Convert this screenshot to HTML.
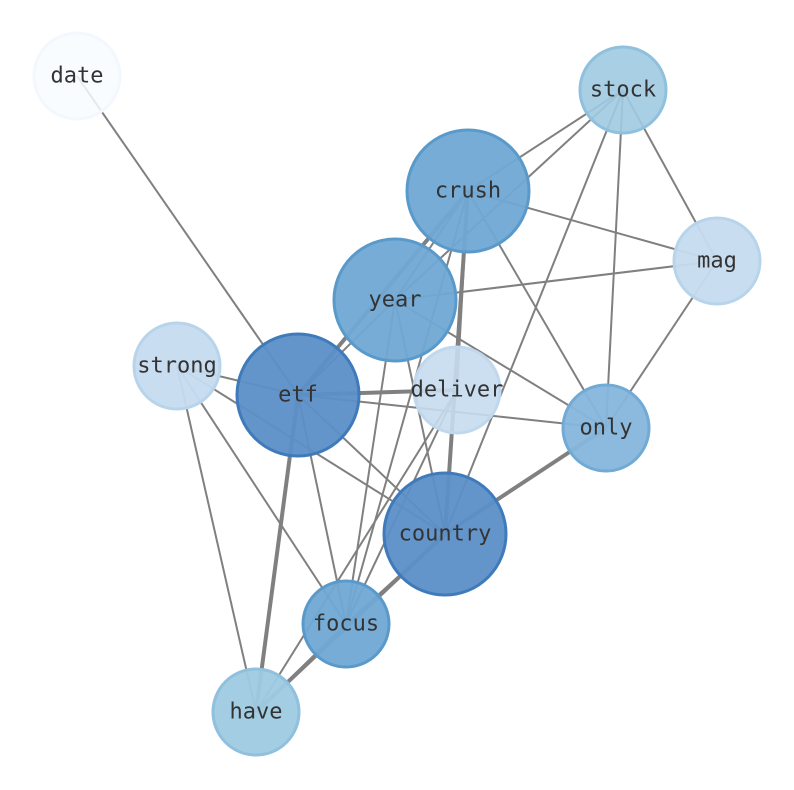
<!DOCTYPE html>
<html><head><meta charset="utf-8"><style>
html,body{margin:0;padding:0;background:#fff;}
svg{display:block;}
text{font-family:"DejaVu Sans Mono","Liberation Mono",monospace;font-size:22px;fill:#333;text-anchor:middle;dominant-baseline:central;}
</style></head><body>
<svg width="794" height="790" viewBox="0 0 794 790">
<g stroke="#808080" stroke-width="2" fill="none">
<line x1="77" y1="76" x2="298" y2="395"/>
<line x1="623" y1="90" x2="468" y2="191"/>
<line x1="623" y1="90" x2="395" y2="300"/>
<line x1="623" y1="90" x2="717" y2="261"/>
<line x1="623" y1="90" x2="606" y2="428"/>
<line x1="623" y1="90" x2="445" y2="534"/>
<line x1="468" y1="191" x2="717" y2="261"/>
<line x1="468" y1="191" x2="395" y2="300"/>
<line x1="468" y1="191" x2="298" y2="395" stroke-width="4"/>
<line x1="468" y1="191" x2="445" y2="534" stroke-width="4"/>
<line x1="468" y1="191" x2="606" y2="428"/>
<line x1="468" y1="191" x2="346" y2="624"/>
<line x1="468" y1="191" x2="457" y2="390"/>
<line x1="717" y1="261" x2="395" y2="300"/>
<line x1="717" y1="261" x2="606" y2="428"/>
<line x1="395" y1="300" x2="298" y2="395"/>
<line x1="395" y1="300" x2="606" y2="428"/>
<line x1="395" y1="300" x2="346" y2="624"/>
<line x1="395" y1="300" x2="445" y2="534"/>
<line x1="177" y1="366" x2="298" y2="395"/>
<line x1="177" y1="366" x2="445" y2="534"/>
<line x1="177" y1="366" x2="346" y2="624"/>
<line x1="177" y1="366" x2="256" y2="712"/>
<line x1="298" y1="395" x2="457" y2="390" stroke-width="4"/>
<line x1="298" y1="395" x2="606" y2="428"/>
<line x1="298" y1="395" x2="445" y2="534"/>
<line x1="298" y1="395" x2="346" y2="624"/>
<line x1="298" y1="395" x2="256" y2="712" stroke-width="4"/>
<line x1="457" y1="390" x2="346" y2="624"/>
<line x1="457" y1="390" x2="256" y2="712"/>
<line x1="606" y1="428" x2="445" y2="534" stroke-width="4"/>
<line x1="445" y1="534" x2="256" y2="712" stroke-width="4"/>
<line x1="445" y1="534" x2="346" y2="624"/>
<line x1="346" y1="624" x2="256" y2="712"/>
</g>
<g stroke-width="3">
<circle cx="77" cy="76" r="43" fill="#f7fbff" fill-opacity="0.85" stroke="#f2f8fd"/>
<circle cx="623" cy="90" r="43" fill="#9ecae1" fill-opacity="0.9" stroke="#8fc0dd"/>
<circle cx="468" cy="191" r="61" fill="#6fa8d3" fill-opacity="0.95" stroke="#5a9acb"/>
<circle cx="717" cy="261" r="43" fill="#c6dbef" fill-opacity="0.95" stroke="#b8d4eb"/>
<circle cx="395" cy="300" r="61" fill="#6fa8d3" fill-opacity="0.95" stroke="#5a9acb"/>
<circle cx="177" cy="366" r="43" fill="#c6dbef" fill-opacity="0.95" stroke="#b8d4eb"/>
<circle cx="298" cy="395" r="61" fill="#5b8fc7" fill-opacity="0.95" stroke="#3f7bbb"/>
<circle cx="457" cy="390" r="43" fill="#c6dbef" fill-opacity="0.9" stroke="#c0d8ee"/>
<circle cx="606" cy="428" r="43" fill="#85b6dc" fill-opacity="0.95" stroke="#72aad6"/>
<circle cx="445" cy="534" r="61" fill="#5b8fc7" fill-opacity="0.95" stroke="#3f7bbb"/>
<circle cx="346" cy="624" r="43" fill="#6fa8d3" fill-opacity="0.95" stroke="#5a9acb"/>
<circle cx="256" cy="712" r="43" fill="#9ecae1" fill-opacity="0.95" stroke="#8fc0dd"/>
</g>
<text x="77" y="76">date</text>
<text x="623" y="90">stock</text>
<text x="468" y="191">crush</text>
<text x="717" y="261">mag</text>
<text x="395" y="300">year</text>
<text x="177" y="366">strong</text>
<text x="298" y="395">etf</text>
<text x="457" y="390">deliver</text>
<text x="606" y="428">only</text>
<text x="445" y="534">country</text>
<text x="346" y="624">focus</text>
<text x="256" y="712">have</text>
</svg>
</body></html>
